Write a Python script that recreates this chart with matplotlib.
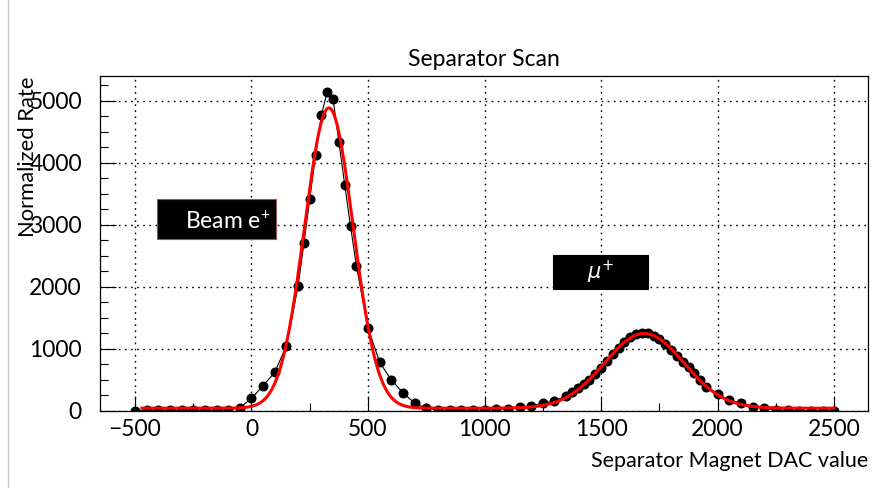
"""Separator scan: normalized rate vs separator magnet DAC value, with double-Gaussian fit."""

import matplotlib

matplotlib.use("Agg")
import matplotlib.pyplot as plt
import numpy as np
from matplotlib.lines import Line2D
from matplotlib.patches import Rectangle
from matplotlib.ticker import MultipleLocator

plt.rcParams["font.family"] = ["Lato", "DejaVu Sans"]
plt.rcParams["mathtext.fontset"] = "dejavusans"

# measured scan points (DAC value, normalized rate)
DAC = [
    -500, -450, -400, -350, -300, -250, -200, -150, -100, -50,
    0, 50, 100, 150, 200, 225, 250, 275, 300, 325, 350, 375, 400, 425, 450,
    500, 550, 600, 650, 700, 750, 800, 850, 900, 950, 1000, 1050, 1100, 1150,
    1200, 1250, 1300, 1350, 1375, 1400, 1425, 1450, 1475, 1500, 1525, 1550,
    1575, 1600, 1625, 1650, 1675, 1700, 1725, 1750, 1775, 1800, 1825, 1850,
    1875, 1900, 1925, 1950, 2000, 2050, 2100, 2150, 2200, 2250, 2300, 2350,
    2400, 2450, 2500,
]
RATE = [
    0, 8, 8, 10, 10, 12, 12, 15, 20, 53,
    205, 408, 624, 1053, 2016, 2705, 3419, 4125, 4770, 5148, 5030, 4334, 3648, 2978, 2339,
    1344, 785, 500, 295, 124, 45, 15, 10, 10, 12, 18, 25, 38, 60,
    85, 124, 161, 242, 300, 375, 435, 495, 600, 689, 806, 914,
    1021, 1118, 1188, 1237, 1253, 1253, 1215, 1156, 1081, 984, 887, 795,
    705, 608, 500, 392, 274, 177, 124, 69, 44, 16, 8, 5,
    5, 4, 2,
]

# fit: two Gaussians on a flat background (parameters)
FIT_RANGE = (-470.0, 2500.0)
FIT_BKG = 45.0
FIT_E_AMP, FIT_E_MEAN, FIT_E_SIGMA = 4840.0, 332.0, 104.0
FIT_MU_AMP, FIT_MU_MEAN, FIT_MU_SIGMA = 1205.0, 1685.0, 170.0

XLIM = (-650, 2645)
YLIM = (0, 5400)
X_TICKS = [-500, 0, 500, 1000, 1500, 2000, 2500]
Y_TICKS = [0, 1000, 2000, 3000, 4000, 5000]


def fit_curve(x):
    g_e = FIT_E_AMP * np.exp(-0.5 * ((x - FIT_E_MEAN) / FIT_E_SIGMA) ** 2)
    g_mu = FIT_MU_AMP * np.exp(-0.5 * ((x - FIT_MU_MEAN) / FIT_MU_SIGMA) ** 2)
    return FIT_BKG + g_e + g_mu


fig = plt.figure(figsize=(8.74, 4.88), dpi=100)
ax = fig.add_axes([0.1144, 0.1578, 0.8787, 0.6865])

ax.plot(DAC, RATE, color="black", lw=0.8, marker="o", ms=6.2, zorder=3)
x_fit = np.linspace(*FIT_RANGE, 800)
ax.plot(x_fit, fit_curve(x_fit), color="#ff0000", lw=2.2, zorder=4)

ax.set_xlim(*XLIM)
ax.set_ylim(*YLIM)
ax.set_xticks(X_TICKS)
ax.set_yticks(Y_TICKS)
ax.xaxis.set_minor_locator(MultipleLocator(250))
ax.yaxis.set_minor_locator(MultipleLocator(250))
ax.tick_params(which="both", direction="in", top=False, right=False, labelsize=16.5)
ax.tick_params(axis="y", which="major", length=11.5, width=0.8, pad=13)
ax.tick_params(axis="y", which="minor", length=5.8, width=0.8)
ax.tick_params(axis="x", which="major", length=11, width=0.8, pad=6)
ax.tick_params(axis="x", which="minor", length=5.8, width=0.8)
ax.grid(True, which="major", color="black", lw=1.0, ls=(0, (1.2, 3.2)))
for side in ax.spines.values():
    side.set_linewidth(0.9)

ax.set_title("Separator Scan", fontsize=16.5, pad=7)
ax.set_xlabel("Separator Magnet DAC value", fontsize=15.5, loc="right", labelpad=8)
fig.text(0.032, 0.678, "Normalized Rate", rotation=90, fontsize=15.8, ha="center", va="center")

# label boxes
ax.add_patch(Rectangle((0.0742, 0.513), 0.155, 0.120, transform=ax.transAxes,
                       facecolor="black", edgecolor="#a05050", lw=0.8, zorder=5))
ax.text(0.167, 0.566, r"Beam e$^{\mathregular{+}}$", transform=ax.transAxes, color="white",
        fontsize=16.5, ha="center", va="center", zorder=6)
ax.add_patch(Rectangle((0.590, 0.364), 0.124, 0.102, transform=ax.transAxes,
                       facecolor="black", edgecolor="black", lw=0.8, zorder=5))
ax.text(0.652, 0.415, r"$\mu^{+}$", transform=ax.transAxes, color="white",
        fontsize=15, ha="center", va="center", zorder=6)

fig.add_artist(Line2D([0.0097, 0.0097], [0.0, 1.0], color="#c8c8c8", lw=1.0))

fig.savefig("out.png", dpi=100)
plt.close(fig)
